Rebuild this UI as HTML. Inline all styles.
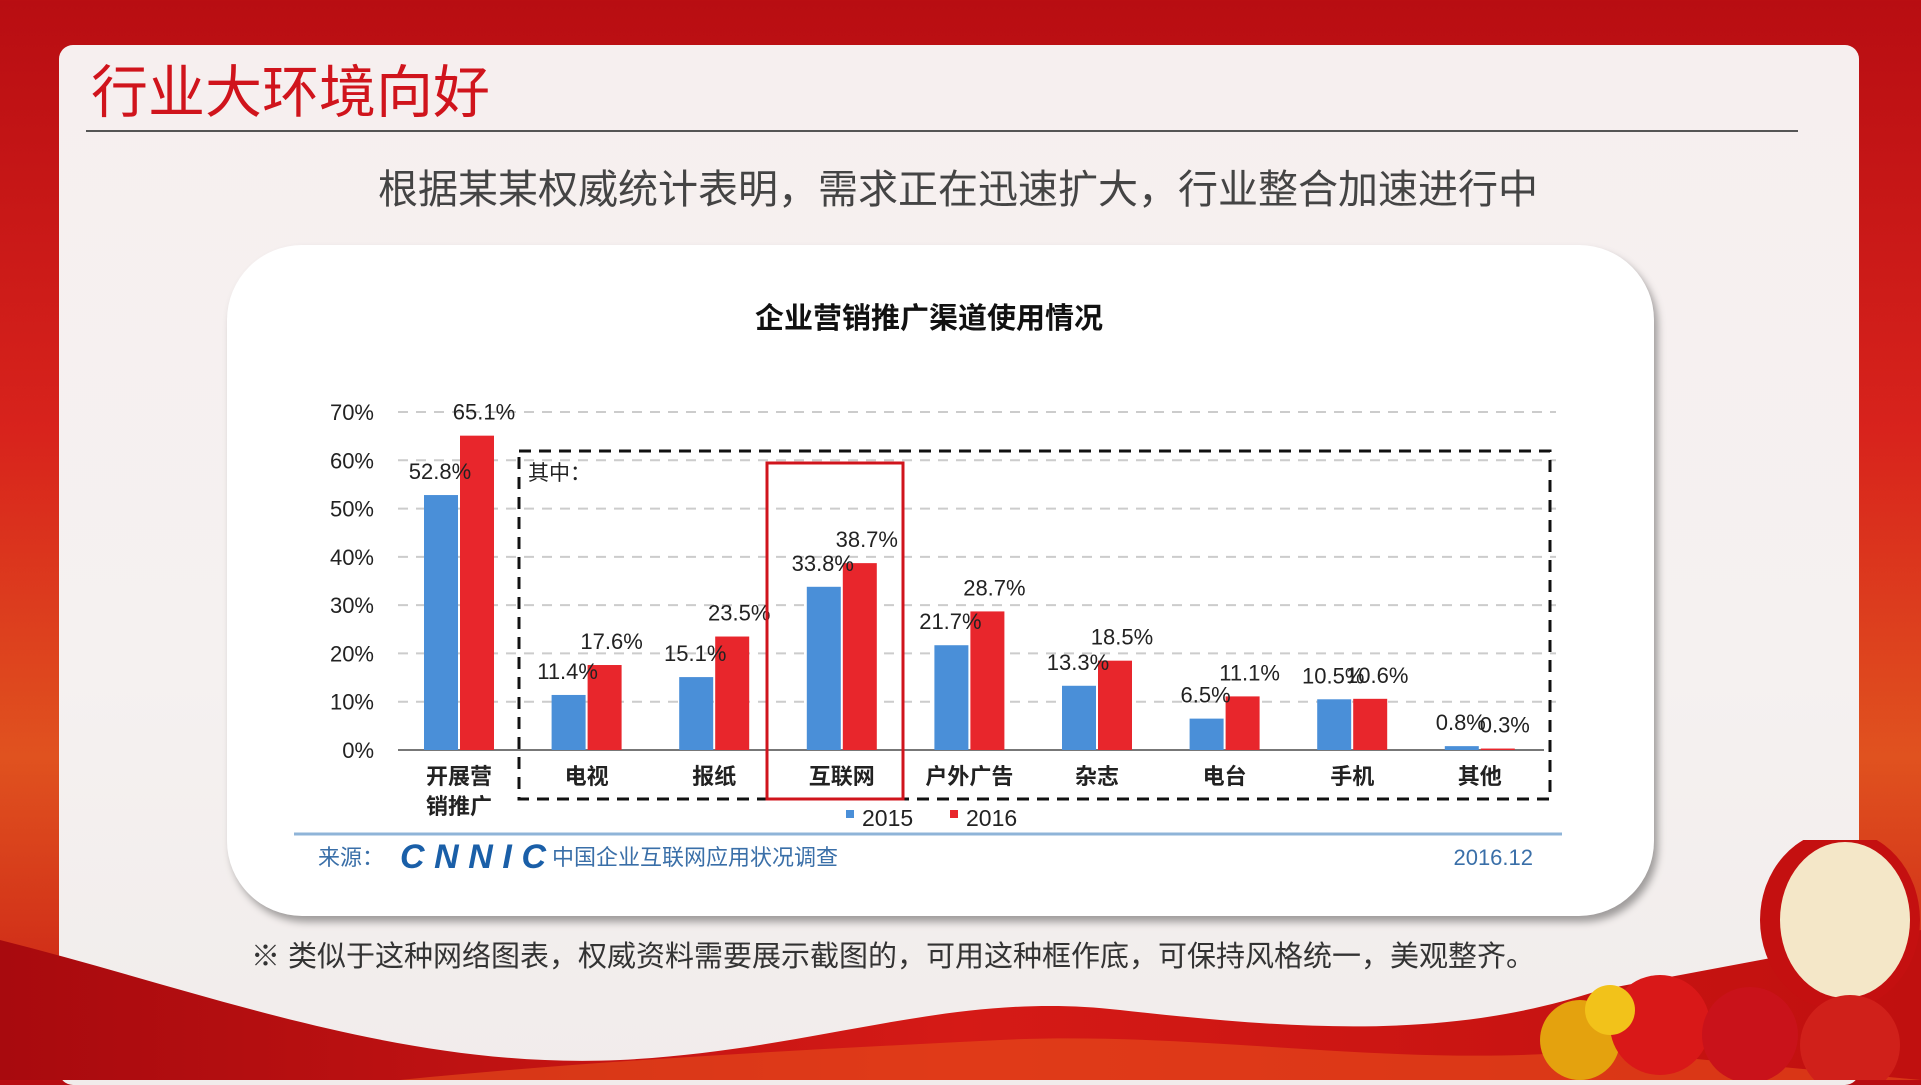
<!DOCTYPE html>
<html><head><meta charset="utf-8">
<style>
html,body{margin:0;padding:0}
body{width:1921px;height:1080px;position:relative;overflow:hidden;background:linear-gradient(180deg,#b80d12 0%,#d8231c 40%,#e0521f 70%,#c81a14 100%);font-family:"Liberation Sans","Noto Sans CJK SC",sans-serif}
.card{position:absolute;left:59px;top:45px;width:1800px;height:1040px;border-radius:14px;background:linear-gradient(180deg,#f6efef 0%,#f5f1f0 60%,#f1eceb 100%)}
.t{position:absolute;white-space:nowrap}
</style></head><body>
<div class="card"></div>
<svg class="t" style="left:0;top:930px" width="1921" height="150">
<defs><linearGradient id="wg" x1="0" x2="1"><stop offset="0" stop-color="#a80a0e"/><stop offset="0.5" stop-color="#d51a16"/><stop offset="1" stop-color="#c0100f"/></linearGradient></defs>
<path d="M0 10 C200 60 400 140 620 130 C820 120 950 60 1120 80 C1300 100 1450 110 1600 60 L1921 0 L1921 150 L0 150Z" fill="url(#wg)"/>
<path d="M400 150 C600 130 800 120 1000 110 C1200 100 1400 140 1600 120 L1921 150Z" fill="#e8501a" opacity="0.6"/>
</svg>
<svg class="t" style="left:1490px;top:840px" width="431" height="240">
<ellipse cx="350" cy="80" rx="80" ry="90" fill="#c41010"/><ellipse cx="355" cy="80" rx="65" ry="78" fill="#f4e7c8"/>
<circle cx="90" cy="200" r="40" fill="#e4a20e"/><circle cx="170" cy="185" r="50" fill="#d91818"/><circle cx="260" cy="195" r="48" fill="#c9121a"/><circle cx="360" cy="205" r="50" fill="#d0201a"/><circle cx="120" cy="170" r="25" fill="#f2c21a"/>
</svg>
<div class="t" style="left:91px;top:60px;font-size:57px;color:#d0141c;line-height:66px">行业大环境向好</div>
<div class="t" style="left:86px;top:130px;width:1712px;height:2px;background:#555"></div>
<div class="t" style="left:0;width:1916px;text-align:center;top:166px;font-size:40px;color:#444;line-height:48px">根据某某权威统计表明，需求正在迅速扩大，行业整合加速进行中</div>
<div class="t" style="left:227px;top:245px;width:1427px;height:671px;background:#fff;border-radius:75px;box-shadow:4px 6px 8px rgba(0,0,0,0.35)"></div>
<svg id="chart" class="t" style="left:0;top:0" width="1921" height="1080"></svg>
<div class="t" style="left:251px;top:937px;font-size:29px;color:#333;line-height:40px">※ 类似于这种网络图表，权威资料需要展示截图的，可用这种框作底，可保持风格统一，美观整齐。</div>
<script>
const categories=["开展营|销推广","电视","报纸","互联网","户外广告","杂志","电台","手机","其他"];
const values2015=[52.8,11.4,15.1,33.8,21.7,13.3,6.5,10.5,0.8];
const values2016=[65.1,17.6,23.5,38.7,28.7,18.5,11.1,10.6,0.3];
const yTicks=[0,10,20,30,40,50,60,70];
const NS="http://www.w3.org/2000/svg";
const svg=document.getElementById('chart');
const y0=750,pxPer=(750-412)/70;
const yS=v=>y0-v*pxPer;
const x0=459,step=127.6;
const xS=i=>x0+i*step;
const bw=34;
function mk(t,a,txt){const e=document.createElementNS(NS,t);for(const k in a)e.setAttribute(k,a[k]);if(txt!=null)e.textContent=txt;svg.appendChild(e);return e;}
let e=mk('text',{x:929,y:328,'text-anchor':'middle','font-size':29,'font-weight':'bold',fill:'#111'},'企业营销推广渠道使用情况');


yTicks.forEach(v=>{
 if(v>0){const g=mk('line',{x1:398,x2:1556,y1:yS(v),y2:yS(v),stroke:'#ccc','stroke-width':2,'stroke-dasharray':'10 8'});
 
 }
 const t=mk('text',{x:374,y:yS(v)+8,'text-anchor':'end','font-size':22,fill:'#222'},v+'%');
 
 
});
e=mk('line',{x1:398,x2:1544,y1:y0,y2:y0,stroke:'#777','stroke-width':2});


categories.forEach((c,i)=>{
 const cx=xS(i);
 let b=mk('rect',{x:cx-bw-1,y:yS(values2015[i]),width:bw,height:values2015[i]*pxPer,fill:'#4a8fd8'});
 
 
 b=mk('rect',{x:cx+1,y:yS(values2016[i]),width:bw,height:values2016[i]*pxPer,fill:'#e8262c'});
 
 
 let l=mk('text',{x:cx-bw/2-2,y:yS(values2015[i])-16,'text-anchor':'middle','font-size':22,fill:'#222'},values2015[i]+'%');
 
 
 l=mk('text',{x:cx+bw/2+8,y:yS(values2016[i])-16,'text-anchor':'middle','font-size':22,fill:'#222'},values2016[i]+'%');
 
 
 c.split('|').forEach((p,j)=>{
  const t=mk('text',{x:cx,y:784+j*30,'text-anchor':'middle','font-size':22,'font-weight':'bold',fill:'#222'},p);
  
  
 });
});
e=mk('rect',{x:519,y:451,width:1031,height:348,fill:'none',stroke:'#111','stroke-width':3,'stroke-dasharray':'12 8'});


e=mk('text',{x:528,y:480,'font-size':21,fill:'#222'},'其中：');


e=mk('rect',{x:767,y:463,width:136,height:336,fill:'none',stroke:'#d0141c','stroke-width':3});


e=mk('rect',{x:846,y:810,width:8,height:8,fill:'#4a8fd8'});


e=mk('text',{x:862,y:826,'font-size':23,fill:'#222'},'2015');


e=mk('rect',{x:950,y:810,width:8,height:8,fill:'#e8262c'});


e=mk('text',{x:966,y:826,'font-size':23,fill:'#222'},'2016');


e=mk('line',{x1:294,x2:1562,y1:834,y2:834,stroke:'#8fb4d8','stroke-width':3});


e=mk('text',{x:318,y:865,'font-size':22,fill:'#3a6fa8'},'来源：');


e=mk('text',{x:400,y:868,'font-size':34,'font-weight':'bold','font-style':'italic',fill:'#1a5fa8',textLength:146},'CNNIC');


e=mk('text',{x:552,y:865,'font-size':22,fill:'#3a6fa8'},'中国企业互联网应用状况调查');


e=mk('text',{x:1533,y:865,'text-anchor':'end','font-size':22,fill:'#3a6fa8'},'2016.12');


</script>
</body></html>
